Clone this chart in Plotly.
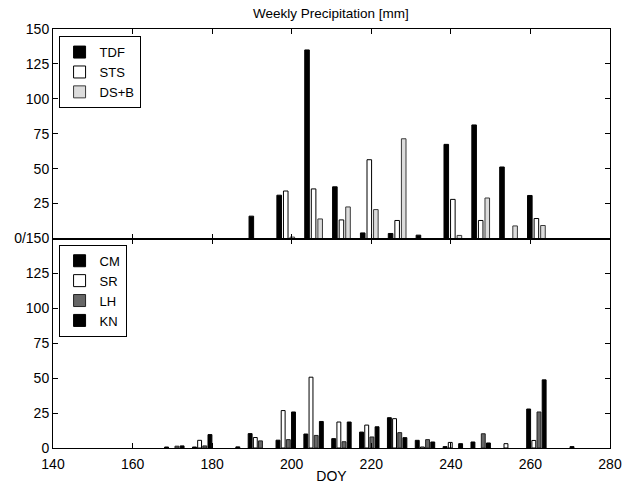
import plotly.graph_objects as go
from plotly.subplots import make_subplots

# Weekly group centres (DOY)
weeks = [170.5, 177.5, 184.5, 191.5, 198.5, 205.5, 212.5, 219.5, 226.5,
         233.5, 240.5, 247.5, 254.5, 261.5, 268.5]

# Top panel series [mm]
tdf = [0, 0, 0, 16, 31, 135, 37, 4, 3.6, 2.4, 67.4, 81.3, 51.2, 30.8, 0]
sts = [0, 0, 0, 0, 34, 35.5, 13.3, 56.4, 12.9, 0, 28, 12.9, 0, 14.3, 0]
dsb = [0, 0, 0, 0, 1, 14, 22.6, 20.7, 71.4, 0, 2.2, 29, 9, 9.3, 0]

# Bottom panel series [mm]
cm = [0.7, 0.7, 0, 10.3, 5.6, 10, 6.7, 11.4, 21.7, 5.5, 1, 4.3, 0, 27.9, 0]
sr = [0, 5.5, 0, 7.5, 26.8, 50.7, 18.6, 16.4, 21, 0.7, 4, 0, 3.1, 5.4, 0]
lh = [1.3, 1.5, 0, 5.1, 6, 9, 4.5, 7.9, 11, 6, 0, 10.2, 0, 25.8, 0]
kn = [1.5, 9.6, 0.8, 0, 25.8, 19, 18.6, 15.2, 7.4, 4.3, 3.1, 3.6, 0, 48.8, 1]

x_ticks = [140, 160, 180, 200, 220, 240, 260, 280]
top_yticks = [25, 50, 75, 100, 125, 150]
bot_yticks = [0, 25, 50, 75, 100, 125, 150]
bot_yticktext = ["0", "25", "50", "75", "100", "125", "0/150"]

FONT = "Arial, Liberation Sans, Helvetica, sans-serif"


def nz(vals):
    # zero-precipitation weeks draw no bar
    return [v if v else None for v in vals]


fig = make_subplots(rows=2, cols=1, shared_xaxes=True, vertical_spacing=0)

top_series = [("TDF", tdf, "#000000", "#000000"),
              ("STS", sts, "#ffffff", "#000000"),
              ("DS+B", dsb, "#dcdcdc", "#3a3a3a")]
p3, w3 = 1.65, 1.15
for i, (name, vals, fill, edge) in enumerate(top_series):
    c = (i - 1) * p3
    fig.add_trace(go.Bar(x=weeks, y=nz(vals), name=name, offset=c - w3 / 2, width=w3,
                         marker=dict(color=fill, line=dict(color=edge, width=1)),
                         legend="legend"), row=1, col=1)

bot_series = [("CM", cm, "#000000", "#000000"),
              ("SR", sr, "#ffffff", "#000000"),
              ("LH", lh, "#666666", "#222222"),
              ("KN", kn, "#000000", "#000000")]
p4, w4 = 1.3, 0.98
for i, (name, vals, fill, edge) in enumerate(bot_series):
    c = (i - 1.5) * p4
    fig.add_trace(go.Bar(x=weeks, y=nz(vals), name=name, offset=c - w4 / 2, width=w4,
                         marker=dict(color=fill, line=dict(color=edge, width=1)),
                         legend="legend2"), row=2, col=1)

axis_common = dict(showline=True, linecolor="#000000", linewidth=1, mirror="ticks",
                   ticks="inside", ticklen=5, tickcolor="#000000", showgrid=False,
                   zeroline=False, automargin=False,
                   tickfont=dict(family=FONT, size=14, color="#000000"))

fig.update_xaxes(range=[140, 280], tickvals=x_ticks, **axis_common)
fig.update_xaxes(showticklabels=False, row=1, col=1)
fig.update_xaxes(title=dict(text="DOY", standoff=0,
                            font=dict(family=FONT, size=14, color="#000000")),
                 ticklabelstandoff=3, row=2, col=1)
fig.update_yaxes(range=[0, 150], tickvals=top_yticks, row=1, col=1, **axis_common)
fig.update_yaxes(range=[0, 150], tickvals=bot_yticks, ticktext=bot_yticktext,
                 row=2, col=1, **axis_common)

legend_common = dict(bgcolor="#ffffff", bordercolor="#000000", borderwidth=1,
                     font=dict(family=FONT, size=13, color="#000000"),
                     xanchor="left", yanchor="top", tracegroupgap=0)

fig.update_layout(
    template="none",
    width=628, height=484,
    margin=dict(l=53, r=18, t=29, b=36),
    paper_bgcolor="#ffffff", plot_bgcolor="#ffffff",
    title=dict(text="Weekly Precipitation [mm]", x=0.527, xanchor="center",
               y=0.972, yanchor="middle",
               font=dict(family=FONT, size=13.5, color="#000000")),
    barmode="overlay",
    showlegend=True,
    legend=dict(x=0.01, y=0.983, **legend_common),
    legend2=dict(x=0.01, y=0.485, **legend_common),
)

fig.write_html("out.html",
               config={"displayModeBar": False},
               post_script="document.body.style.margin='0';"
                           "document.body.style.overflow='hidden';")
